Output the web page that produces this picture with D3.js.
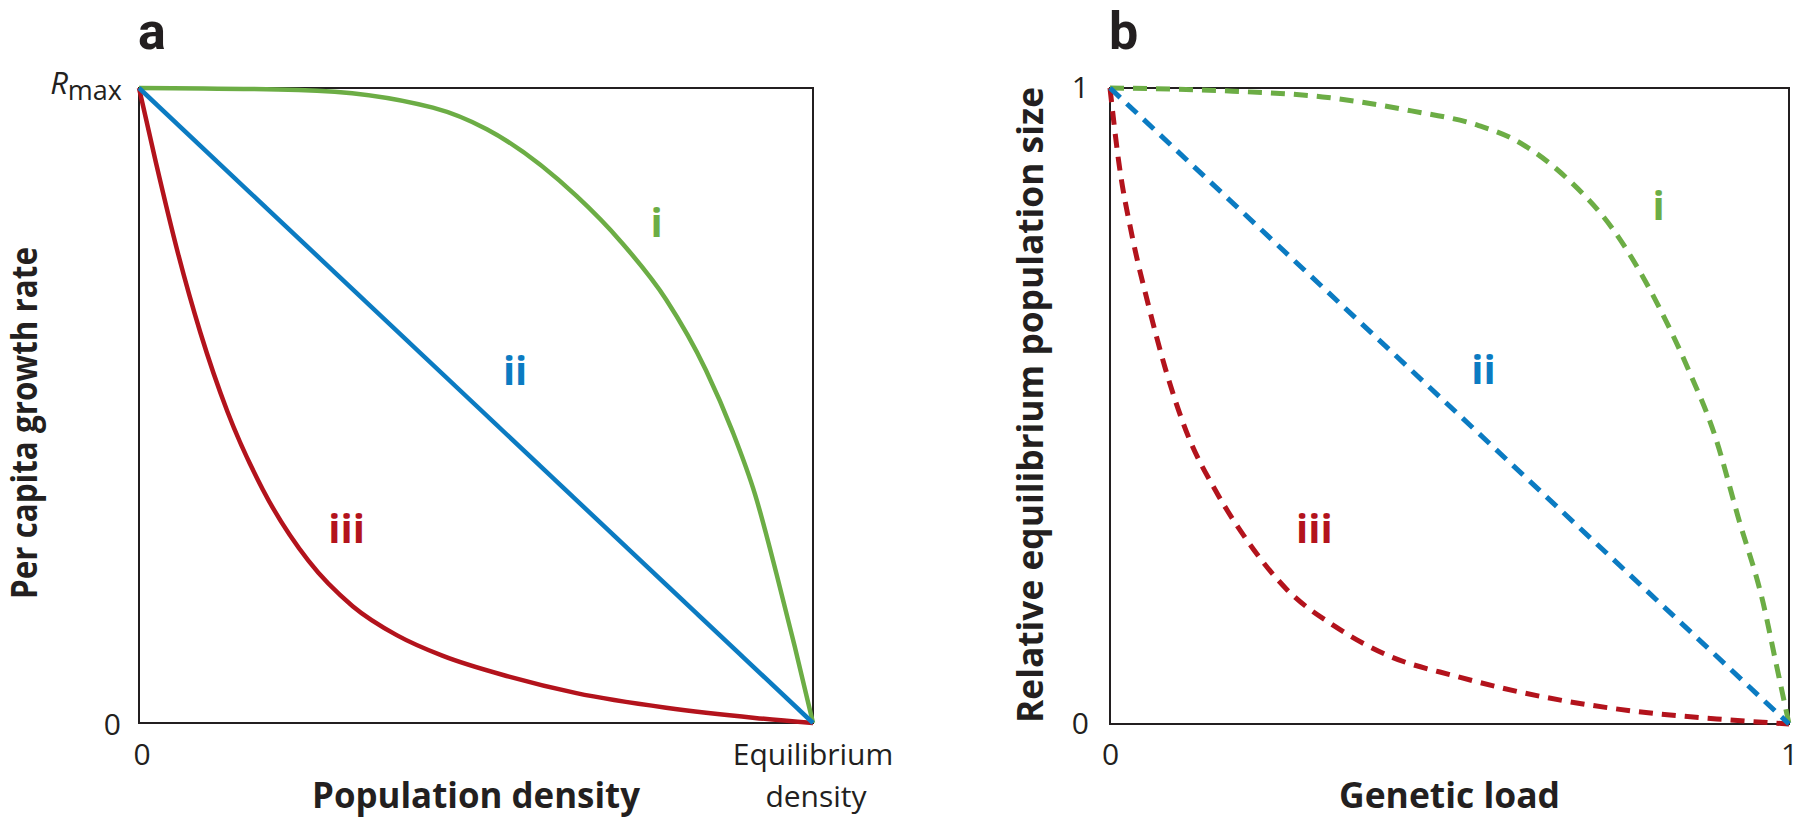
<!DOCTYPE html>
<html><head><meta charset="utf-8">
<script src="https://cdn.jsdelivr.net/npm/d3@7"></script>
<style>
body{margin:0;background:#fff}
svg text{font-family:"Open Sans","Noto Sans",sans-serif;fill:#231f20}
</style>
</head><body>
<svg id="c" width="1800" height="827"></svg>
<script>
// ---- data ----
const panelLetters = ["a", "b"];
const xTitles = ["Population density", "Genetic load"];
const yTitles = ["Per capita growth rate", "Relative equilibrium population size"];
const aXTickLabels = ["0", ["Equilibrium", "density"]];
const aYTickLabels = ["0", "R", "max"];
const bTickValues = [0, 1];
const seriesNames = ["i", "ii", "iii"];
const seriesColors = ["#6cad45", "#0b7bc2", "#b3131c"];

// panel a (solid)
const aGreenX = [0, 0.237, 0.436, 0.516, 0.649, 0.715, 0.782, 0.841, 0.881, 0.914, 0.947, 0.973, 1];
const aGreenY = [1, 0.997, 0.969, 0.935, 0.830, 0.758, 0.667, 0.556, 0.458, 0.360, 0.230, 0.120, 0];
const aBlueX = [0, 1];
const aBlueY = [1, 0];
const aRedX = [0, 0.025, 0.058, 0.091, 0.131, 0.184, 0.251, 0.317, 0.383, 0.450, 0.549, 0.649, 0.782, 0.914, 1];
const aRedY = [1, 0.883, 0.739, 0.615, 0.491, 0.367, 0.256, 0.184, 0.138, 0.106, 0.073, 0.047, 0.024, 0.008, 0];

// panel b (dashed)
const bGreenX = [0, 0.181, 0.313, 0.444, 0.543, 0.595, 0.674, 0.740, 0.806, 0.852, 0.891, 0.926, 0.962, 0.981, 1];
const bGreenY = [1, 0.995, 0.986, 0.964, 0.941, 0.919, 0.857, 0.779, 0.661, 0.557, 0.453, 0.322, 0.190, 0.095, 0];
const bBlueX = [0, 1];
const bBlueY = [1, 0];
const bRedX = [0, 0.013, 0.033, 0.056, 0.082, 0.115, 0.155, 0.201, 0.260, 0.332, 0.411, 0.510, 0.641, 0.773, 0.905, 1];
const bRedY = [1, 0.883, 0.765, 0.661, 0.557, 0.453, 0.368, 0.290, 0.212, 0.153, 0.107, 0.075, 0.042, 0.020, 0.007, 0];

// label anchor points (data coords) for i, ii, iii
const aLabelX = [0.768, 0.558, 0.308];
const aLabelY = [0.766, 0.533, 0.283];
const bLabelX = [0.808, 0.550, 0.301];
const bLabelY = [0.793, 0.534, 0.285];

// ---- drawing ----
const svg = d3.select("#c");
const ink = "#231f20";

const panels = [
  {x0: 139, x1: 813, y0: 723, y1: 88, letter: panelLetters[0], dash: null,
   series: [[aRedX, aRedY, 2], [aGreenX, aGreenY, 0], [aBlueX, aBlueY, 1]],
   lx: aLabelX, ly: aLabelY},
  {x0: 1110, x1: 1789, y0: 724, y1: 88, letter: panelLetters[1], dash: "14,9",
   series: [[bRedX, bRedY, 2], [bGreenX, bGreenY, 0], [bBlueX, bBlueY, 1]],
   lx: bLabelX, ly: bLabelY}
];

panels.forEach((p, pi) => {
  const x = d3.scaleLinear().domain([0, 1]).range([p.x0, p.x1]);
  const y = d3.scaleLinear().domain([0, 1]).range([p.y0, p.y1]);
  const g = svg.append("g");

  // frame
  g.append("rect").attr("x", x(0)).attr("y", y(1))
    .attr("width", x(1) - x(0)).attr("height", y(0) - y(1))
    .attr("fill", "none").attr("stroke", ink).attr("stroke-width", 2);

  const line = d3.line().x(d => x(d[0])).y(d => y(d[1])).curve(d3.curveMonotoneX);
  p.series.forEach(([xs, ys, ci]) => {
    const pts = xs.map((v, i) => [v, ys[i]]);
    const path = g.append("path").attr("d", line(pts)).attr("fill", "none")
      .attr("stroke", seriesColors[ci]).attr("stroke-width", pi === 0 ? 4.5 : 5)
      .attr("stroke-linejoin", "round");
    if (p.dash) path.attr("stroke-dasharray", p.dash);
  });

  // roman numeral labels
  seriesNames.forEach((s, i) => {
    g.append("text").attr("x", x(p.lx[i])).attr("y", y(p.ly[i]))
      .attr("text-anchor", "middle").attr("font-size", 40).attr("font-weight", 700)
      .style("fill", seriesColors[i]).text(s);
  });

  // panel letter
  g.append("text").attr("x", x(0) - 1).attr("y", 49)
    .style("font-family", "Roboto, 'Open Sans', sans-serif")
    .attr("font-size", 52).attr("font-weight", 700).text(p.letter);

  // x title
  g.append("text").attr("x", (x(0) + x(1)) / 2).attr("y", 808)
    .attr("text-anchor", "middle").attr("font-size", 35).attr("font-weight", 700)
    .attr("textLength", pi === 0 ? 328 : 221).attr("lengthAdjust", "spacingAndGlyphs")
    .text(xTitles[pi]);

  // y title
  const ycx = pi === 0 ? 37 : 1043;
  const ycy = pi === 0 ? 423 : 405;
  g.append("text").attr("transform", `translate(${ycx},${ycy}) rotate(-90)`)
    .attr("text-anchor", "middle").attr("font-size", 35).attr("font-weight", 700)
    .attr("textLength", pi === 0 ? 352 : 636).attr("lengthAdjust", "spacingAndGlyphs")
    .text(yTitles[pi]);

  if (pi === 1) {
    const ax = g.append("g").attr("transform", `translate(0,${y(0)})`)
      .call(d3.axisBottom(x).tickValues(bTickValues).tickSize(0).tickPadding(20).tickFormat(d3.format("d")));
    const ay = g.append("g").attr("transform", `translate(${x(0)},0)`)
      .call(d3.axisLeft(y).tickValues(bTickValues).tickSize(0).tickPadding(21).tickFormat(d3.format("d")));
    [ax, ay].forEach(a => {
      a.select(".domain").remove();
      a.selectAll("text").attr("font-size", 30).attr("font-family", null).style("fill", ink);
    });
  } else {
    // y ticks
    g.append("text").attr("x", x(0) - 18).attr("y", y(0) + 12)
      .attr("text-anchor", "end").attr("font-size", 30).text(aYTickLabels[0]);
    const r = g.append("text").attr("x", x(0) - 17).attr("y", y(1) + 6)
      .attr("text-anchor", "end");
    r.append("tspan").attr("font-size", 31).attr("font-style", "italic").text(aYTickLabels[1]);
    r.append("tspan").attr("font-size", 27).attr("dy", 6).text(aYTickLabels[2]);
    // x ticks
    g.append("text").attr("x", x(0) + 3).attr("y", y(0) + 42)
      .attr("text-anchor", "middle").attr("font-size", 30).text(aXTickLabels[0]);
    const eq = g.append("text").attr("text-anchor", "middle").attr("font-size", 30);
    eq.append("tspan").attr("x", x(1)).attr("y", y(0) + 42).text(aXTickLabels[1][0]);
    eq.append("tspan").attr("x", x(1) + 3).attr("y", y(0) + 84).text(aXTickLabels[1][1]);
  }
});
</script>
</body></html>
